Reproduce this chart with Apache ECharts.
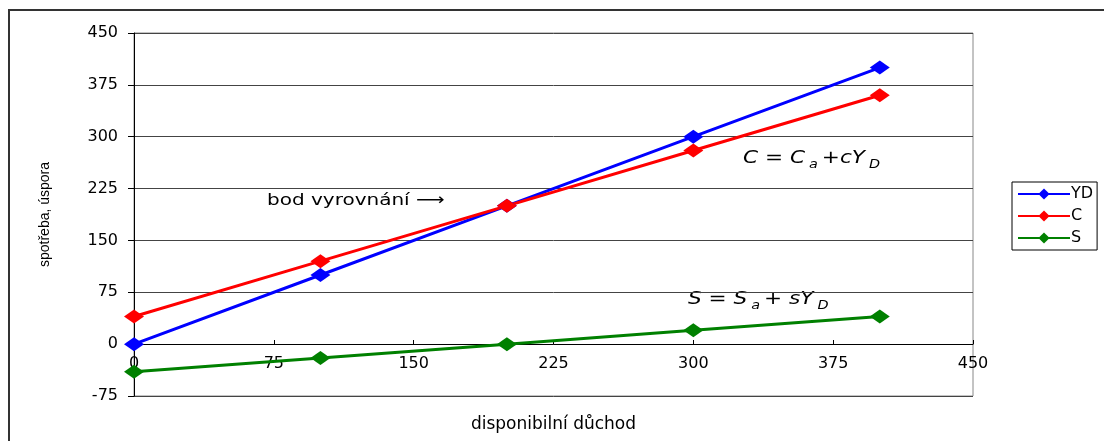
<!DOCTYPE html>
<html>
<head>
<meta charset="utf-8">
<script src="https://cdn.jsdelivr.net/npm/echarts@6/dist/echarts.min.js"></script>
<style>
  html, body { margin: 0; padding: 0; background: #fff; }
  #chart { width: 1104px; height: 441px; }
</style>
</head>
<body>
<div id="chart"></div>
<script>
  // disposable income on x
  var xValues = [0, 100, 200, 300, 400];
  var ydValues = [0, 100, 200, 300, 400];
  var cValues = [40, 120, 200, 280, 360];
  var sValues = [-40, -20, 0, 20, 40];
  var seriesNames = ['YD', 'C', 'S'];

  function pairs(ys) {
    var out = [];
    for (var i = 0; i < xValues.length; i++) {
      out.push([xValues[i], ys[i]]);
    }
    return out;
  }

  var font = 'DejaVu Sans';
  var chart = echarts.init(document.getElementById('chart'));

  function lineSeries(name, ys, color) {
    return {
      name: name,
      type: 'line',
      data: pairs(ys),
      symbol: 'diamond',
      symbolSize: [20, 14],
      itemStyle: { color: color },
      lineStyle: { color: color, width: 3 },
      emphasis: { disabled: true }
    };
  }

  // the original text is a bit stretched sideways
  var formulaRich = {
    m: { fontSize: 18, fontStyle: 'italic', fontFamily: font, color: '#000' },
    s: { fontSize: 12, fontStyle: 'italic', fontFamily: font, color: '#000', padding: [14, 0, 0, 0] }
  };

  chart.setOption({
    animation: false,
    textStyle: { fontFamily: font },
    grid: {
      left: 134, top: 33, right: 131, bottom: 45,
      outerBoundsMode: 'none',
      containLabel: false,
      show: true, borderColor: '#888', borderWidth: 1
    },
    legend: {
      orient: 'vertical',
      left: 1012, top: 182,
      itemWidth: 52, itemHeight: 14, itemGap: 6,
      padding: [4, 4, 4, 5],
      borderColor: '#000', borderWidth: 1,
      textStyle: { fontSize: 16, fontFamily: font, color: '#000', padding: [0, 0, 0, -4] },
      data: seriesNames
    },
    xAxis: {
      type: 'value',
      min: 0, max: 450, interval: 75,
      // the axis sits on y = 0, i.e. 52px above the plot bottom
      offset: -52,
      axisLine: { onZero: false, lineStyle: { color: '#000', width: 1 } },
      axisTick: { show: true, inside: true, length: 4, lineStyle: { color: '#000' } },
      axisLabel: { fontSize: 16, color: '#000', margin: 12, fontFamily: font },
      splitLine: { show: false },
      name: 'disponibilní důchod',
      nameLocation: 'middle',
      nameGap: 72,
      nameTextStyle: { fontSize: 17, color: '#000', fontFamily: font }
    },
    yAxis: {
      type: 'value',
      min: -75, max: 450, interval: 75,
      axisLine: { show: true, lineStyle: { color: '#000', width: 1 } },
      axisTick: { show: true, length: 6, lineStyle: { color: '#000' } },
      axisLabel: { fontSize: 16, color: '#000', margin: 16, fontFamily: font },
      splitLine: { show: true, lineStyle: { color: '#444', width: 1 } },
      name: 'spotřeba, úspora',
      nameLocation: 'middle',
      nameGap: 82,
      nameTextStyle: { fontSize: 14, color: '#000', fontFamily: 'Liberation Sans' }
    },
    graphic: [
      {
        type: 'rect', silent: true, z: -1,
        shape: { x: 9, y: 10, width: 1200, height: 500 },
        style: { fill: 'none', stroke: '#333', lineWidth: 2 }
      },
      {
        type: 'text', left: 267, top: 193, silent: true, scaleX: 1.25,
        style: { text: 'bod vyrovnání ⟶', font: '16px "DejaVu Sans"', fill: '#000' }
      },
      {
        type: 'text', left: 743, top: 149, silent: true, scaleX: 1.2,
        style: { text: '{m|C = C} {s|a} {m|+cY} {s|D}', rich: formulaRich }
      },
      {
        type: 'text', left: 688, top: 290, silent: true, scaleX: 1.2,
        style: { text: '{m|S = S} {s|a} {m|+ sY} {s|D}', rich: formulaRich }
      }
    ],
    series: [
      lineSeries('YD', ydValues, '#0000ff'),
      lineSeries('C', cValues, '#ff0000'),
      lineSeries('S', sValues, '#008000')
    ]
  });
</script>
</body>
</html>
